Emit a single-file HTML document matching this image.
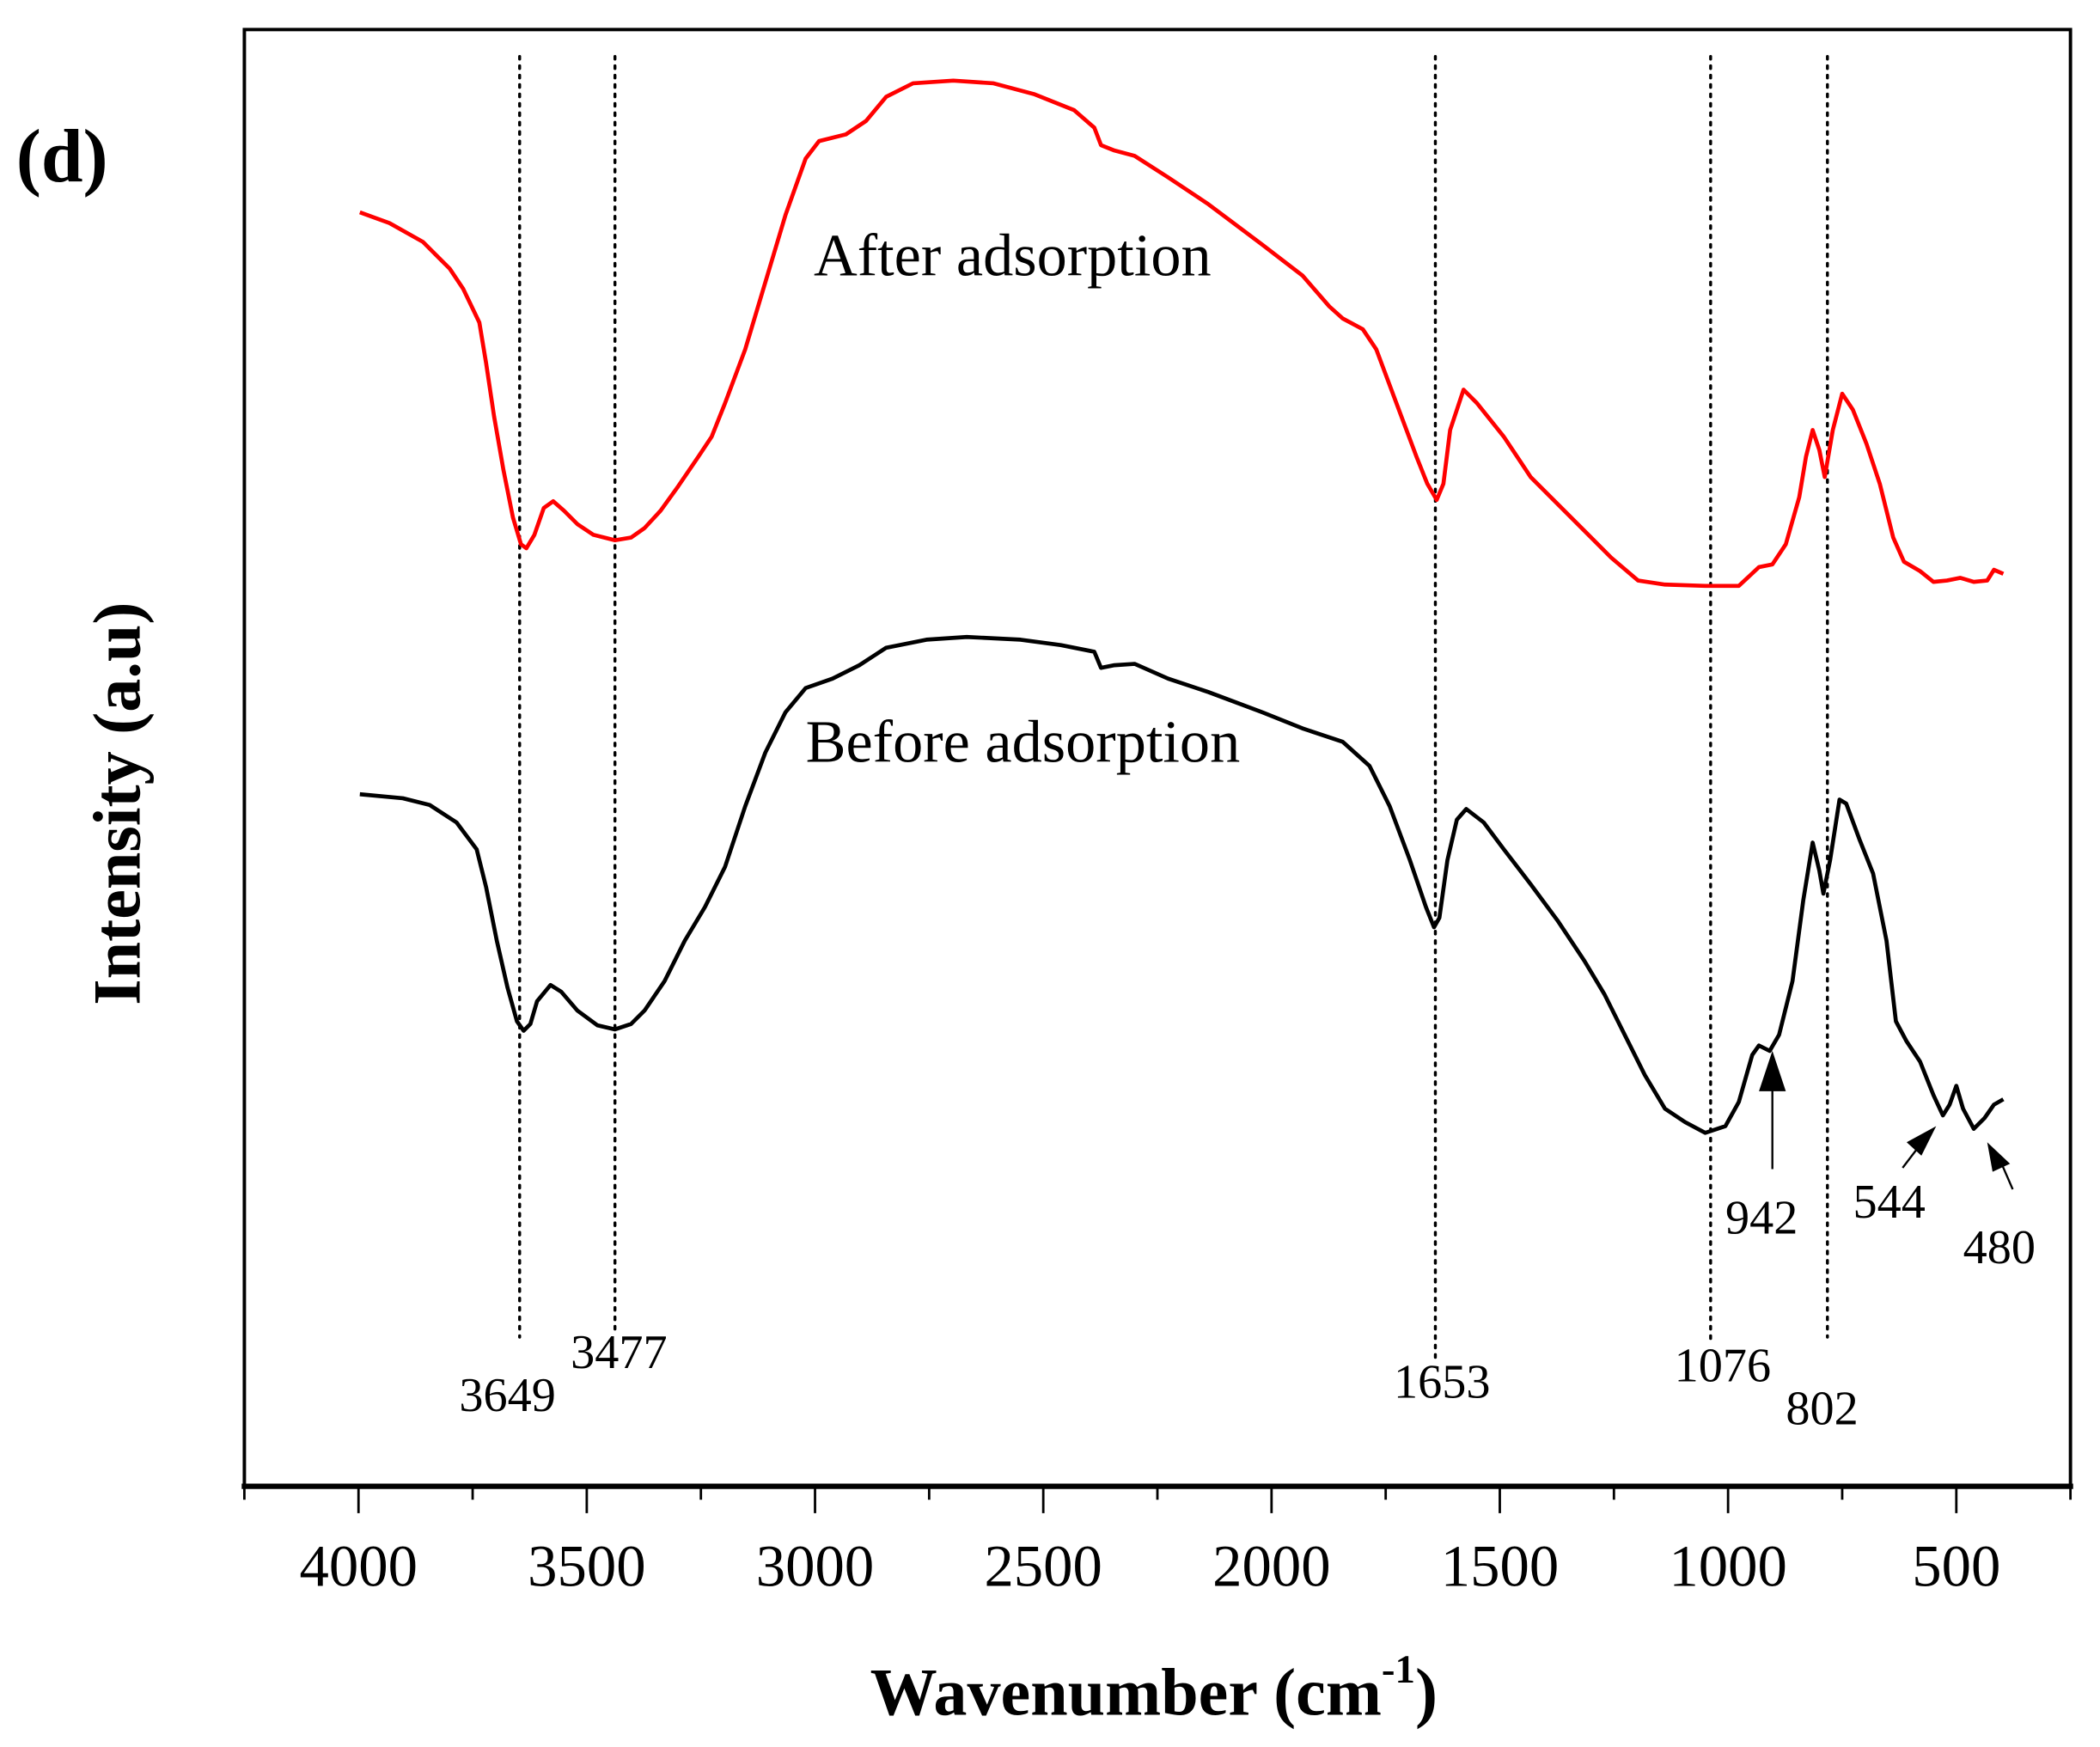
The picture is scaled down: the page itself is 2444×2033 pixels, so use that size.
<!DOCTYPE html>
<html><head><meta charset="utf-8"><style>
html,body{margin:0;padding:0;background:#fff;}
svg{display:block;}
text{font-family:"Liberation Serif",serif;}
</style></head><body>
<svg width="2444" height="2033" viewBox="0 0 1564 1300" preserveAspectRatio="none" xmlns="http://www.w3.org/2000/svg">
<rect width="1564" height="1300" fill="#fff"/>
<rect x="182" y="22" width="1360" height="1084" fill="none" stroke="#000" stroke-width="2.5"/>
<line x1="180" y1="1106" x2="1544" y2="1106" stroke="#000" stroke-width="4"/>
<g stroke="#000" stroke-width="1.8">
<line x1="267" y1="1106" x2="267" y2="1126"/><line x1="437" y1="1106" x2="437" y2="1126"/>
<line x1="607" y1="1106" x2="607" y2="1126"/><line x1="777" y1="1106" x2="777" y2="1126"/>
<line x1="947" y1="1106" x2="947" y2="1126"/><line x1="1117" y1="1106" x2="1117" y2="1126"/>
<line x1="1287" y1="1106" x2="1287" y2="1126"/><line x1="1457" y1="1106" x2="1457" y2="1126"/>
<line x1="182" y1="1106" x2="182" y2="1116"/><line x1="352" y1="1106" x2="352" y2="1116"/>
<line x1="522" y1="1106" x2="522" y2="1116"/><line x1="692" y1="1106" x2="692" y2="1116"/>
<line x1="862" y1="1106" x2="862" y2="1116"/><line x1="1032" y1="1106" x2="1032" y2="1116"/>
<line x1="1202" y1="1106" x2="1202" y2="1116"/><line x1="1372" y1="1106" x2="1372" y2="1116"/>
<line x1="1542" y1="1106" x2="1542" y2="1116"/>
</g>
<g font-size="44" text-anchor="middle">
<text x="267" y="1180">4000</text><text x="437" y="1180">3500</text><text x="607" y="1180">3000</text>
<text x="777" y="1180">2500</text><text x="947" y="1180">2000</text><text x="1117" y="1180">1500</text>
<text x="1287" y="1180">1000</text><text x="1457" y="1180">500</text>
</g>
<text x="648" y="1276" font-size="50" font-weight="bold">Wavenumber (cm<tspan font-size="30" dy="-24">-1</tspan><tspan dy="24">)</tspan></text>
<text transform="translate(104,598) rotate(-90)" font-size="50" font-weight="bold" text-anchor="middle">Intensity (a.u)</text>
<text x="12" y="135" font-size="56" font-weight="bold">(d)</text>
<g stroke="#000" stroke-width="2.2" stroke-dasharray="2 5" stroke-linecap="round">
<line x1="387" y1="42" x2="387" y2="995"/><line x1="458" y1="42" x2="458" y2="990"/>
<line x1="1069" y1="42" x2="1069" y2="1015"/><line x1="1274" y1="42" x2="1274" y2="1000"/>
<line x1="1361" y1="42" x2="1361" y2="995"/>
</g>
<polyline fill="none" stroke="#f00" stroke-width="3" stroke-linejoin="round" points="268,158 290,166 315,180 335,200 345,215 357,240 362,270 368,310 375,350 382,385 388,405 392,408 398,398 405,378 412,373 420,380 430,390 442,398 458,402 470,400 480,393 492,380 505,362 520,340 530,325 540,300 555,260 570,210 585,160 600,118 610,105 630,100 645,90 660,72 680,62 710,60 740,62 770,70 800,82 815,95 820,108 830,112 845,116 870,132 900,152 940,182 970,205 990,228 1000,237 1015,245 1025,260 1040,300 1055,340 1063,360 1070,372 1075,360 1080,320 1090,290 1100,300 1120,325 1140,355 1160,375 1180,395 1200,415 1220,432 1240,435 1270,436 1295,436 1310,422 1320,420 1330,405 1340,370 1345,340 1350,320 1355,335 1359,355 1365,320 1372,293 1380,305 1390,330 1400,360 1410,400 1418,418 1430,425 1440,433 1450,432 1460,430 1470,433 1480,432 1485,424 1492,427"/>
<polyline fill="none" stroke="#000" stroke-width="3" stroke-linejoin="round" points="268,591 300,594 320,599 340,612 355,632 362,660 370,700 378,735 385,760 390,767 395,762 400,745 410,733 418,738 430,752 445,763 458,766 470,762 480,752 495,730 510,700 525,675 540,645 555,600 570,560 585,530 600,512 620,505 640,495 660,482 690,476 720,474 760,476 790,480 815,485 820,497 830,495 845,494 870,505 900,515 940,530 970,542 1000,552 1020,570 1035,600 1050,640 1062,675 1068,690 1072,683 1078,640 1085,610 1092,602 1105,612 1120,632 1140,658 1160,685 1180,715 1195,740 1210,770 1225,800 1240,825 1255,835 1270,843 1285,838 1295,820 1305,785 1310,778 1318,782 1325,770 1335,730 1343,670 1350,627 1355,648 1358,665 1363,640 1370,595 1375,598 1385,625 1395,650 1405,700 1412,760 1420,775 1430,790 1440,815 1447,830 1452,822 1457,808 1462,825 1470,840 1478,832 1485,822 1492,818"/>
<text x="606" y="205" font-size="45">After adsorption</text>
<text x="600" y="567" font-size="45">Before adsorption</text>
<g font-size="36">
<text x="342" y="1050">3649</text><text x="425" y="1018">3477</text>
<text x="1038" y="1040">1653</text><text x="1247" y="1028">1076</text>
<text x="1330" y="1060">802</text><text x="1285" y="918">942</text>
<text x="1380" y="906">544</text><text x="1462" y="940">480</text>
</g>
<line x1="1320" y1="870" x2="1320" y2="805" stroke="#000" stroke-width="1.5"/>
<polygon points="1320,782 1310,812 1330,812" fill="#000"/>
<line x1="1417" y1="869" x2="1430" y2="852" stroke="#000" stroke-width="1.5"/>
<polygon points="1442,838 1420,850 1431,860" fill="#000"/>
<line x1="1499" y1="885" x2="1489" y2="862" stroke="#000" stroke-width="1.5"/>
<polygon points="1480,850 1484,872 1497,866" fill="#000"/>
</svg>
</body></html>
